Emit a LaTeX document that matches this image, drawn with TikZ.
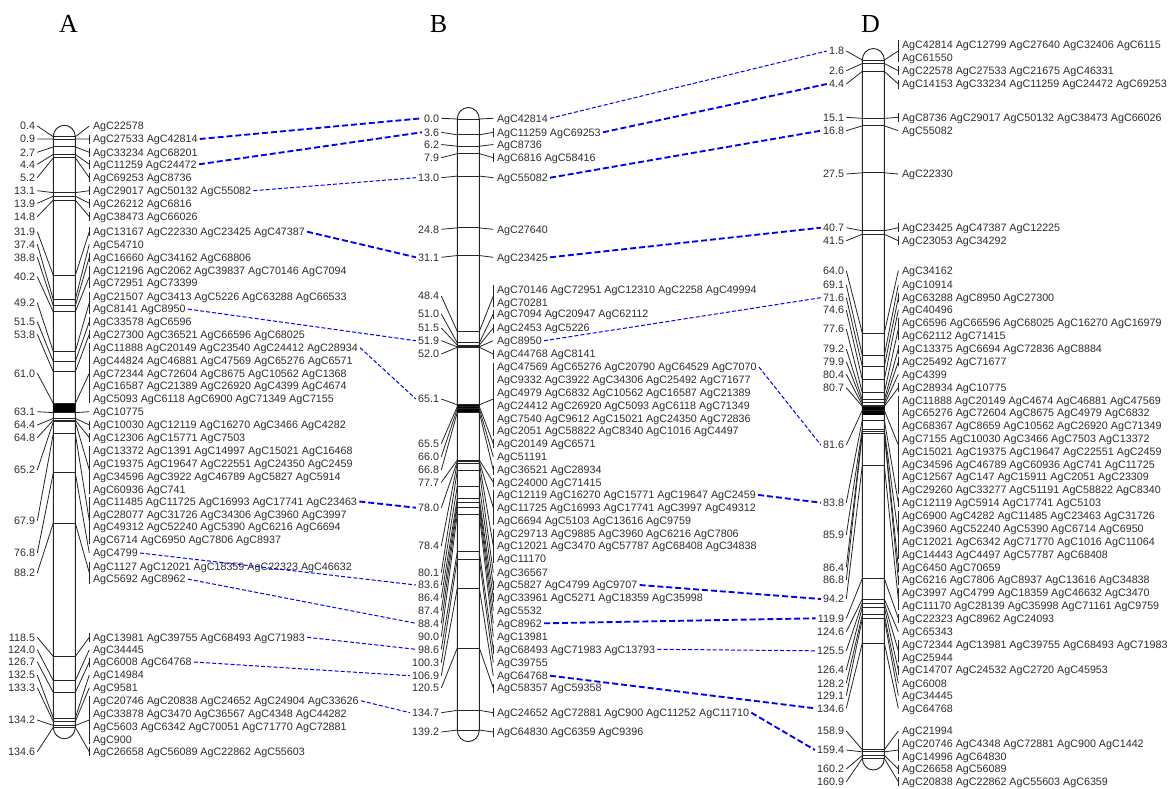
\documentclass[tikz,border=0pt]{standalone}
\usepackage{fontspec}
\setmainfont{Liberation Sans}
\newfontfamily\titlefont{Liberation Serif}
\tikzset{
  lab/.style={font=\fontsize{8.05}{9}\selectfont, inner xsep=1.5pt, inner ysep=0pt, text height=5.77pt, text depth=0pt, text=black!82},
  mkline/.style={line width=0.65pt, black!85},
  conn/.style={line width=0.6pt, black!85},
  chromo/.style={line width=0.7pt, black!85},
  thickdash/.style={blue, line width=1.4pt, dash pattern=on 4.5pt off 2.2pt},
  thindash/.style={blue, line width=0.75pt, dash pattern=on 3pt off 1.6pt},
  ttl/.style={font=\titlefont\fontsize{19.5}{20}\selectfont, anchor=base, inner sep=0pt}
}
\def\lsp{12.8}
\newcommand{\chrom}[4]{\def\chN{#1}\def\chL{#2}\pgfmathsetmacro\chR{#2+22}\def\chY{#3}\def\chK{#4}}
\newcommand{\grp}[7]{%
  \pgfmathsetmacro\yy{\chY+\chK*#2}%
  \coordinate (\chN#1l) at (\chL,\yy);
  \coordinate (\chN#1r) at (\chR,\yy);
  \draw[mkline] (\chN#1l) -- (\chN#1r);
  \node[lab,anchor=east] (\chN#1n) at (\chL-16,#4) {#6};
  \coordinate (\chN#1b) at (\chR+14,#4);
  \draw[conn] (\chN#1l) -- (\chN#1n.east);
  \draw[conn] (\chN#1r) -- (\chN#1b);
  \foreach \t [count=\i from 0] in {#7} {
    \pgfmathsetmacro\ty{#4+(\i-(#3-1)/2)*\lsp}
    \node[lab,anchor=west] (\chN#1t\i) at (\chR+15.5,\ty) {\t};
  }
  \ifnum#5=1
    \pgfmathsetmacro\ya{#4-(#3-1)/2*\lsp-4.5}%
    \pgfmathsetmacro\yb{#4+(#3-1)/2*\lsp+4.5}%
    \coordinate (\chN#1u) at (\chR+14,\ya);
    \coordinate (\chN#1d) at (\chR+14,\yb);
    \draw[conn] (\chN#1u) -- (\chN#1d);
  \fi
}
\newcommand{\outline}[2]{%
  \pgfmathsetmacro\ytop{\chY+\chK*#1}%
  \pgfmathsetmacro\ybot{\chY+\chK*#2}%
  \draw[chromo] (\chL,\ytop) -- (\chL,\ybot) arc[start angle=180, end angle=0, x radius=11, y radius=11.5] -- (\chR,\ytop) arc[start angle=0, end angle=-180, x radius=11, y radius=11.5] -- cycle;
}
\begin{document}
\begin{tikzpicture}[x=0.75pt, y=-0.75pt]
\useasboundingbox (0,0) rectangle (1168,789);
\fill[white] (0,0) rectangle (1168,789);

\node[ttl] (tA) at (68.5,32) {A};
\node[ttl] (tB) at (438.5,32) {B};
\node[ttl] (tD) at (870.5,32) {D};

% ---------------- A ----------------
\chrom{A}{53.3}{135}{4.40}
\outline{0.4}{134.6}
\fill[black] (\chL,403.5) rectangle (\chR,413);
\grp{1}{0.4}{1}{126}{0}{0.4}{AgC22578}
\grp{2}{0.9}{1}{139}{1}{0.9}{AgC27533 AgC42814}
\grp{3}{2.7}{1}{152.3}{1}{2.7}{AgC33234 AgC68201}
\grp{4}{4.4}{1}{164.3}{1}{4.4}{AgC11259 AgC24472}
\grp{5}{5.2}{1}{177.7}{1}{5.2}{AgC69253 AgC8736}
\grp{6}{13.1}{1}{190.7}{1}{13.1}{AgC29017 AgC50132 AgC55082}
\grp{7}{13.9}{1}{203.3}{1}{13.9}{AgC26212 AgC6816}
\grp{8}{14.8}{1}{216.7}{1}{14.8}{AgC38473 AgC66026}
\grp{9}{31.9}{1}{231.7}{1}{31.9}{AgC13167 AgC22330 AgC23425 AgC47387}
\grp{10}{37.4}{1}{244.3}{0}{37.4}{AgC54710}
\grp{11}{38.8}{1}{257.3}{1}{38.8}{AgC16660 AgC34162 AgC68806}
\grp{12}{40.2}{2}{276.7}{1}{40.2}{AgC12196 AgC2062 AgC39837 AgC70146 AgC7094, AgC72951 AgC73399}
\grp{13}{49.2}{2}{302.7}{1}{49.2}{AgC21507 AgC3413 AgC5226 AgC63288 AgC66533, AgC8141 AgC8950}
\grp{14}{51.5}{1}{321.7}{1}{51.5}{AgC33578 AgC6596}
\grp{15}{53.8}{1}{334.3}{1}{53.8}{AgC27300 AgC36521 AgC66596 AgC68025}
\grp{16}{61.0}{5}{373.3}{1}{61.0}{AgC11888 AgC20149 AgC23540 AgC24412 AgC28934, AgC44824 AgC46881 AgC47569 AgC65276 AgC6571, AgC72344 AgC72604 AgC8675 AgC10562 AgC1368, AgC16587 AgC21389 AgC26920 AgC4399 AgC4674, AgC5093 AgC6118 AgC6900 AgC71349 AgC7155}
\grp{17}{63.1}{1}{411.7}{0}{63.1}{AgC10775}
\grp{18}{64.4}{1}{425}{1}{64.4}{AgC10030 AgC12119 AgC16270 AgC3466 AgC4282}
\grp{19}{64.8}{1}{437.7}{1}{64.8}{AgC12306 AgC15771 AgC7503}
\grp{20}{65.2}{4}{470}{1}{65.2}{AgC13372 AgC1391 AgC14997 AgC15021 AgC16468, AgC19375 AgC19647 AgC22551 AgC24350 AgC2459, AgC34596 AgC3922 AgC46789 AgC5827 AgC5914, AgC60936 AgC741}
\grp{21}{67.9}{4}{520.7}{1}{67.9}{AgC11485 AgC11725 AgC16993 AgC17741 AgC23463, AgC28077 AgC31726 AgC34306 AgC3960 AgC3997, AgC49312 AgC52240 AgC5390 AgC6216 AgC6694, AgC6714 AgC6950 AgC7806 AgC8937}
\grp{22}{76.8}{1}{553}{0}{76.8}{AgC4799}
\grp{23}{88.2}{2}{572.7}{1}{88.2}{AgC1127 AgC12021 AgC18359 AgC22323 AgC46632, AgC5692 AgC8962}
\grp{24}{118.5}{1}{637.3}{1}{118.5}{AgC13981 AgC39755 AgC68493 AgC71983}
\grp{25}{124.0}{1}{649.7}{0}{124.0}{AgC34445}
\grp{26}{126.7}{1}{662}{1}{126.7}{AgC6008 AgC64768}
\grp{27}{132.5}{1}{675}{0}{132.5}{AgC14984}
\grp{28}{133.3}{1}{687.7}{0}{133.3}{AgC9581}
\grp{29}{134.2}{4}{720}{1}{134.2}{AgC20746 AgC20838 AgC24652 AgC24904 AgC33626, AgC33878 AgC3470 AgC36567 AgC4348 AgC44282, AgC5603 AgC6342 AgC70051 AgC71770 AgC72881, AgC900}
\grp{30}{134.6}{1}{751.7}{1}{134.6}{AgC26658 AgC56089 AgC22862 AgC55603}

% ---------------- B ----------------
\chrom{B}{457.3}{119}{4.39}
\outline{0}{139.2}
\fill[black] (\chL,404.8) rectangle (\chR,412.3);
\grp{1}{0.0}{1}{118.3}{0}{0.0}{AgC42814}
\grp{2}{3.6}{1}{132.3}{1}{3.6}{AgC11259 AgC69253}
\grp{3}{6.2}{1}{144.5}{0}{6.2}{AgC8736}
\grp{4}{7.9}{1}{157.7}{1}{7.9}{AgC6816 AgC58416}
\grp{5}{13.0}{1}{177.7}{0}{13.0}{AgC55082}
\grp{6}{24.8}{1}{229.3}{0}{24.8}{AgC27640}
\grp{7}{31.1}{1}{257.3}{0}{31.1}{AgC23425}
\grp{8}{48.4}{2}{296}{1}{48.4}{AgC70146 AgC72951 AgC12310 AgC2258 AgC49994, AgC70281}
\grp{9}{51.0}{1}{314}{1}{51.0}{AgC7094 AgC20947 AgC62112}
\grp{10}{51.5}{1}{328}{1}{51.5}{AgC2453 AgC5226}
\grp{11}{51.9}{1}{340.7}{0}{51.9}{AgC8950}
\grp{12}{52.0}{1}{354}{1}{52.0}{AgC44768 AgC8141}
\grp{13}{65.1}{6}{399}{1}{65.1}{AgC47569 AgC65276 AgC20790 AgC64529 AgC7070, AgC9332 AgC3922 AgC34306 AgC25492 AgC71677, AgC4979 AgC6832 AgC10562 AgC16587 AgC21389, AgC24412 AgC26920 AgC5093 AgC6118 AgC71349, AgC7540 AgC9612 AgC15021 AgC24350 AgC72836, AgC2051 AgC58822 AgC8340 AgC1016 AgC4497}
\grp{14}{65.5}{1}{443.7}{1}{65.5}{AgC20149 AgC6571}
\grp{15}{66.0}{1}{456.7}{0}{66.0}{AgC51191}
\grp{16}{66.8}{1}{470}{1}{66.8}{AgC36521 AgC28934}
\grp{17}{77.7}{1}{482.3}{1}{77.7}{AgC24000 AgC71415}
\grp{18}{78.0}{3}{507.7}{1}{78.0}{AgC12119 AgC16270 AgC15771 AgC19647 AgC2459, AgC11725 AgC16993 AgC17741 AgC3997 AgC49312, AgC6694 AgC5103 AgC13616 AgC9759}
\grp{19}{78.4}{3}{546}{1}{78.4}{AgC29713 AgC9885 AgC3960 AgC6216 AgC7806, AgC12021 AgC3470 AgC57787 AgC68408 AgC34838, AgC11170}
\grp{20}{80.1}{1}{572.7}{0}{80.1}{AgC36567}
\grp{21}{83.6}{1}{585}{1}{83.6}{AgC5827 AgC4799 AgC9707}
\grp{22}{86.4}{1}{597.7}{1}{86.4}{AgC33961 AgC5271 AgC18359 AgC35998}
\grp{23}{87.4}{1}{610.7}{0}{87.4}{AgC5532}
\grp{24}{88.4}{1}{623.3}{0}{88.4}{AgC8962}
\grp{25}{90.0}{1}{636.7}{0}{90.0}{AgC13981}
\grp{26}{98.6}{1}{649.3}{1}{98.6}{AgC68493 AgC71983 AgC13793}
\grp{27}{100.3}{1}{662.7}{0}{100.3}{AgC39755}
\grp{28}{106.9}{1}{675.7}{0}{106.9}{AgC64768}
\grp{29}{120.5}{1}{688}{1}{120.5}{AgC58357 AgC59358}
\grp{30}{134.7}{1}{712.7}{1}{134.7}{AgC24652 AgC72881 AgC900 AgC11252 AgC11710}
\grp{31}{139.2}{1}{732}{1}{139.2}{AgC64830 AgC6359 AgC9396}

% ---------------- D ----------------
\chrom{D}{862.3}{52.1}{4.39}
\outline{1.8}{160.9}
\fill[black] (\chL,406.5) rectangle (\chR,414.5);
\grp{1}{1.8}{2}{51}{1}{1.8}{AgC42814 AgC12799 AgC27640 AgC32406 AgC6115, AgC61550}
\grp{2}{2.6}{1}{70.7}{1}{2.6}{AgC22578 AgC27533 AgC21675 AgC46331}
\grp{3}{4.4}{1}{84}{1}{4.4}{AgC14153 AgC33234 AgC11259 AgC24472 AgC69253}
\grp{4}{15.1}{1}{117.3}{1}{15.1}{AgC8736 AgC29017 AgC50132 AgC38473 AgC66026}
\grp{5}{16.8}{1}{130.7}{0}{16.8}{AgC55082}
\grp{6}{27.5}{1}{174}{0}{27.5}{AgC22330}
\grp{7}{40.7}{1}{227.7}{1}{40.7}{AgC23425 AgC47387 AgC12225}
\grp{8}{41.5}{1}{240.7}{1}{41.5}{AgC23053 AgC34292}
\grp{9}{64.0}{1}{270.7}{0}{64.0}{AgC34162}
\grp{10}{69.1}{1}{285}{0}{69.1}{AgC10914}
\grp{11}{71.6}{1}{297.7}{1}{71.6}{AgC63288 AgC8950 AgC27300}
\grp{12}{74.6}{1}{310}{0}{74.6}{AgC40496}
\grp{13}{77.6}{2}{329}{1}{77.6}{AgC6596 AgC66596 AgC68025 AgC16270 AgC16979, AgC62112 AgC71415}
\grp{14}{79.2}{1}{349}{1}{79.2}{AgC13375 AgC6694 AgC72836 AgC8884}
\grp{15}{79.9}{1}{361.7}{1}{79.9}{AgC25492 AgC71677}
\grp{16}{80.4}{1}{374.3}{0}{80.4}{AgC4399}
\grp{17}{80.7}{1}{387.7}{1}{80.7}{AgC28934 AgC10775}
\grp{18}{81.6}{8}{445}{1}{81.6}{AgC11888 AgC20149 AgC4674 AgC46881 AgC47569, AgC65276 AgC72604 AgC8675 AgC4979 AgC6832, AgC68367 AgC8659 AgC10562 AgC26920 AgC71349, AgC7155 AgC10030 AgC3466 AgC7503 AgC13372, AgC15021 AgC19375 AgC19647 AgC22551 AgC2459, AgC34596 AgC46789 AgC60936 AgC741 AgC11725, AgC12567 AgC147 AgC15911 AgC2051 AgC23309, AgC29260 AgC33277 AgC51191 AgC58822 AgC8340}
\grp{19}{83.8}{1}{502.7}{1}{83.8}{AgC12119 AgC5914 AgC17741 AgC5103}
\grp{20}{85.9}{4}{535}{1}{85.9}{AgC6900 AgC4282 AgC11485 AgC23463 AgC31726, AgC3960 AgC52240 AgC5390 AgC6714 AgC6950, AgC12021 AgC6342 AgC71770 AgC1016 AgC11064, AgC14443 AgC4497 AgC57787 AgC68408}
\grp{21}{86.4}{1}{567.3}{1}{86.4}{AgC6450 AgC70659}
\grp{22}{86.8}{1}{580}{1}{86.8}{AgC6216 AgC7806 AgC8937 AgC13616 AgC34838}
\grp{23}{94.2}{2}{599}{1}{94.2}{AgC3997 AgC4799 AgC18359 AgC46632 AgC3470, AgC11170 AgC28139 AgC35998 AgC71161 AgC9759}
\grp{24}{119.9}{1}{618.3}{1}{119.9}{AgC22323 AgC8962 AgC24093}
\grp{25}{124.6}{1}{631.7}{0}{124.6}{AgC65343}
\grp{26}{125.5}{2}{650.8}{1}{125.5}{AgC72344 AgC13981 AgC39755 AgC68493 AgC71983, AgC25944}
\grp{27}{126.4}{1}{670}{1}{126.4}{AgC14707 AgC24532 AgC2720 AgC45953}
\grp{28}{128.2}{1}{683.3}{0}{128.2}{AgC6008}
\grp{29}{129.1}{1}{695.5}{0}{129.1}{AgC34445}
\grp{30}{134.6}{1}{708.3}{0}{134.6}{AgC64768}
\grp{31}{158.9}{1}{731}{0}{158.9}{AgC21994}
\grp{32}{159.4}{2}{750}{1}{159.4}{AgC20746 AgC4348 AgC72881 AgC900 AgC1442, AgC14996 AgC64830}
\grp{33}{160.2}{1}{769}{1}{160.2}{AgC26658 AgC56089}
\grp{34}{160.9}{1}{781.7}{1}{160.9}{AgC20838 AgC22862 AgC55603 AgC6359}

% ---------------- links A -> B ----------------
\draw[thickdash] (A2t0.east) -- (B1n.west);
\draw[thickdash] (A4t0.east) -- (B2n.west);
\draw[thindash] (A6t0.east) -- (B5n.west);
\draw[thickdash] (A9t0.east) -- (B7n.west);
\draw[thindash] (A13t1.east) -- (B11n.west);
\draw[thindash] (A16t0.east) -- (B13n.west);
\draw[thickdash] (A21t0.east) -- (B18n.west);
\draw[thindash] (A22t0.east) -- (B21n.west);
\draw[thindash] (A23t1.east) -- (B24n.west);
\draw[thindash] (A24t0.east) -- (B26n.west);
\draw[thindash] (A26t0.east) -- (B28n.west);
\draw[thindash] (A29t0.east) -- (B30n.west);

% ---------------- links B -> D ----------------
\draw[thindash] (B1t0.east) -- (D1n.west);
\draw[thickdash] (B2t0.east) -- (D3n.west);
\draw[thickdash] (B5t0.east) -- (D5n.west);
\draw[thickdash] (B7t0.east) -- (D7n.west);
\draw[thindash] (B11t0.east) -- (D11n.west);
\draw[thindash] (B13t0.east) -- (D18n.west);
\draw[thickdash] (B18t0.east) -- (D19n.west);
\draw[thickdash] (B21t0.east) -- (D23n.west);
\draw[thickdash] (B24t0.east) -- (D24n.west);
\draw[thindash] (B26t0.east) -- (D26n.west);
\draw[thickdash] (B28t0.east) -- (D30n.west);
\draw[thickdash] (B30t0.east) -- (D32n.west);
\end{tikzpicture}
\end{document}
